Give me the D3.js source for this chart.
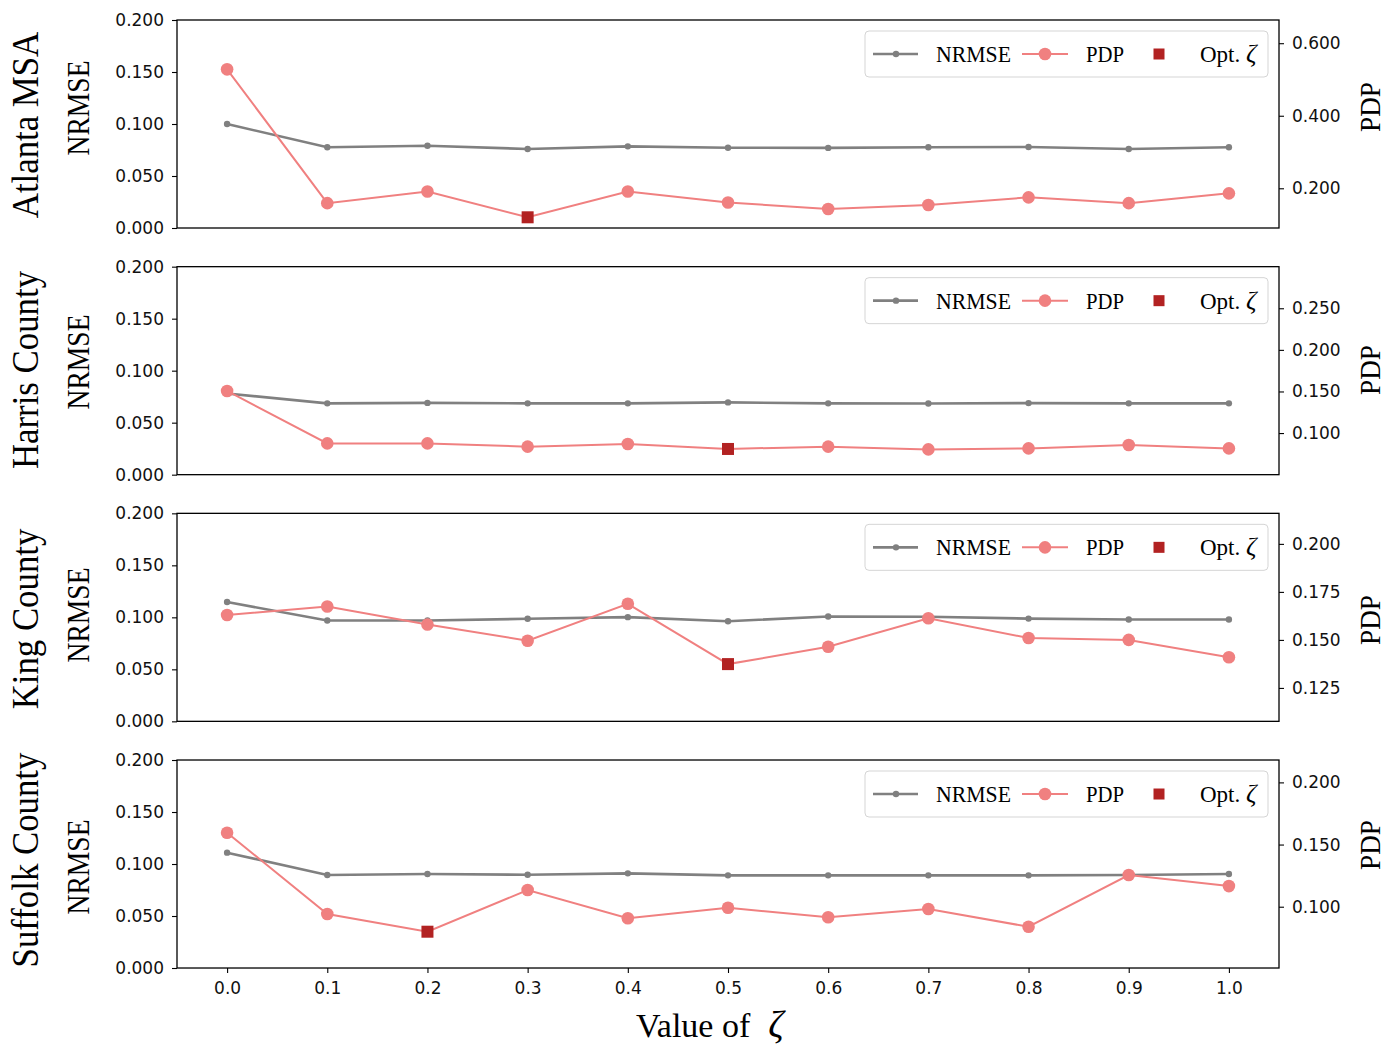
<!DOCTYPE html>
<html><head><meta charset="utf-8">
<script src="https://cdn.jsdelivr.net/npm/d3@7"></script>
<style>body{margin:0;background:#fff}svg{display:block}</style>
</head><body>
<svg id="chart" width="1399" height="1052"></svg>
<script>
// ---- data ----
const zeta = [0.0,0.1,0.2,0.3,0.4,0.5,0.6,0.7,0.8,0.9,1.0];
const xTickLabels = ["0.0","0.1","0.2","0.3","0.4","0.5","0.6","0.7","0.8","0.9","1.0"];
const regions = ["Atlanta MSA","Harris County","King County","Suffolk County"];

const nrmseAtlanta = [0.100,0.0776,0.0791,0.0760,0.0785,0.0772,0.0770,0.0776,0.0779,0.0760,0.0776];
const pdpAtlanta   = [0.528,0.159,0.191,0.120,0.191,0.161,0.143,0.154,0.175,0.159,0.186];
const nrmseHarris  = [0.078,0.0686,0.0690,0.0686,0.0686,0.0695,0.0686,0.0684,0.0688,0.0686,0.0686];
const pdpHarris    = [0.1506,0.0876,0.0876,0.0837,0.0869,0.0809,0.0837,0.0804,0.0816,0.0857,0.0816];
const nrmseKing    = [0.1147,0.0969,0.0969,0.0986,0.1002,0.0963,0.1008,0.1005,0.0988,0.0979,0.0979];
const pdpKing      = [0.163,0.1674,0.158,0.1496,0.1688,0.1374,0.1464,0.1613,0.151,0.150,0.141];
const nrmseSuffolk = [0.1109,0.0894,0.0904,0.0897,0.0910,0.0891,0.0891,0.0891,0.0891,0.0894,0.0904];
const pdpSuffolk   = [0.1595,0.0941,0.0799,0.1134,0.0907,0.0992,0.0915,0.0982,0.0839,0.1255,0.1166];

const optIndex = [3,5,5,2];

const nrmseTicks = [0,0.05,0.1,0.15,0.2];
const pdpDomainAtlanta = [0.0905,0.664];
const pdpDomainHarris  = [0.05,0.30];
const pdpDomainKing    = [0.1076,0.2159];
const pdpDomainSuffolk = [0.0507,0.218];
const pdpTicksAtlanta = [0.2,0.4,0.6];
const pdpTicksHarris  = [0.1,0.15,0.2,0.25];
const pdpTicksKing    = [0.125,0.15,0.175,0.2];
const pdpTicksSuffolk = [0.1,0.15,0.2];

const panels = [
  {name:regions[0], nrmse:nrmseAtlanta, pdp:pdpAtlanta, dom:pdpDomainAtlanta, ticks:pdpTicksAtlanta, opt:optIndex[0]},
  {name:regions[1], nrmse:nrmseHarris,  pdp:pdpHarris,  dom:pdpDomainHarris,  ticks:pdpTicksHarris,  opt:optIndex[1]},
  {name:regions[2], nrmse:nrmseKing,    pdp:pdpKing,    dom:pdpDomainKing,    ticks:pdpTicksKing,    opt:optIndex[2]},
  {name:regions[3], nrmse:nrmseSuffolk, pdp:pdpSuffolk, dom:pdpDomainSuffolk, ticks:pdpTicksSuffolk, opt:optIndex[3]},
];

// ---- layout ----
const svg = d3.select("#chart");
const left = 177, right = 1279, firstTop = 20, step = 246.67, ph = 208;
// vertical centres of the axis titles (layout)
const regionLabelY = [125, 370, 619, 860];
const nrmseLabelY  = [108, 362, 615, 867];
const pdpLabelY    = [107, 370, 620, 845];
const serif = "'Liberation Serif','Times New Roman',serif";
const sans = "'DejaVu Sans',sans-serif";
const grey = "#808080", coral = "#F08080", opt = "#B22222";

const x = d3.scaleLinear().domain([-0.05,1.05]).range([left,right]);

function fitText(sel, len){
  sel.attr("textLength", len).attr("lengthAdjust","spacingAndGlyphs");
}

panels.forEach((p,i)=>{
  const top = firstTop + i*step, bottom = top + ph;
  const yL = d3.scaleLinear().domain([0,0.2]).range([bottom,top]);
  const yR = d3.scaleLinear().domain(p.dom).range([bottom,top]);
  const g = svg.append("g");

  const la = g.append("g").attr("transform",`translate(${left},0)`)
    .call(d3.axisLeft(yL).tickValues(nrmseTicks).tickFormat(d3.format(".3f")).tickSize(5).tickPadding(8));
  const ra = g.append("g").attr("transform",`translate(${right},0)`)
    .call(d3.axisRight(yR).tickValues(p.ticks).tickFormat(d3.format(".3f")).tickSize(5).tickPadding(8));
  [la,ra].forEach(a=>{
    a.select(".domain").remove();
    a.selectAll("line").attr("stroke","#000").attr("stroke-width",1.1);
    a.selectAll("text").attr("font-family",sans).attr("font-size",17).attr("fill","#111");
  });
  if(i===3){
    const xa = g.append("g").attr("transform",`translate(0,${bottom})`)
      .call(d3.axisBottom(x).tickValues(zeta).tickFormat((d,k)=>xTickLabels[k]).tickSize(5).tickPadding(9));
    xa.select(".domain").remove();
    xa.selectAll("line").attr("stroke","#000").attr("stroke-width",1.1);
    xa.selectAll("text").attr("font-family",sans).attr("font-size",17).attr("fill","#111");
  }

  const lineL = d3.line().x((d,k)=>x(zeta[k])).y(d=>yL(d));
  g.append("path").datum(p.nrmse).attr("d",lineL).attr("fill","none")
    .attr("stroke",grey).attr("stroke-width",2.6);
  g.selectAll(".nm").data(p.nrmse).join("circle").attr("class","nm")
    .attr("cx",(d,k)=>x(zeta[k])).attr("cy",d=>yL(d)).attr("r",3.2).attr("fill",grey);

  const lineR = d3.line().x((d,k)=>x(zeta[k])).y(d=>yR(d));
  g.append("path").datum(p.pdp).attr("d",lineR).attr("fill","none")
    .attr("stroke",coral).attr("stroke-width",2);
  g.selectAll(".pm").data(p.pdp.map((v,k)=>({v,k})).filter(o=>o.k!==p.opt)).join("circle").attr("class","pm")
    .attr("cx",o=>x(zeta[o.k])).attr("cy",o=>yR(o.v)).attr("r",6.3).attr("fill",coral);
  const s = 12;
  g.append("rect").attr("x",x(zeta[p.opt])-s/2).attr("y",yR(p.pdp[p.opt])-s/2)
    .attr("width",s).attr("height",s).attr("fill",opt);

  g.append("rect").attr("x",left).attr("y",top).attr("width",right-left).attr("height",ph)
    .attr("fill","none").attr("stroke","#000").attr("stroke-width",1.3);

  // legend
  const lg = g.append("g").attr("transform",`translate(${right-414},${top+11})`);
  lg.append("rect").attr("x",0).attr("y",0).attr("width",403).attr("height",46).attr("rx",4)
    .attr("fill","#fff").attr("fill-opacity",0.8).attr("stroke","#d5d5d5").attr("stroke-width",1);
  const ly = 23;
  lg.append("line").attr("x1",8).attr("x2",53).attr("y1",ly).attr("y2",ly).attr("stroke",grey).attr("stroke-width",2.6);
  lg.append("circle").attr("cx",31).attr("cy",ly).attr("r",3.2).attr("fill",grey);
  lg.append("text").attr("x",71).attr("y",ly+8).attr("font-family",serif).attr("font-size",23).attr("fill","#000")
    .text("NRMSE").call(fitText,75);
  lg.append("line").attr("x1",157).attr("x2",203).attr("y1",ly).attr("y2",ly).attr("stroke",coral).attr("stroke-width",2);
  lg.append("circle").attr("cx",180).attr("cy",ly).attr("r",6.3).attr("fill",coral);
  lg.append("text").attr("x",221).attr("y",ly+8).attr("font-family",serif).attr("font-size",23).attr("fill","#000")
    .text("PDP").call(fitText,38);
  lg.append("rect").attr("x",294-5.5).attr("y",ly-5.5).attr("width",11).attr("height",11).attr("fill",opt);
  const ot = lg.append("text").attr("x",335).attr("y",ly+8).attr("font-family",serif).attr("font-size",23).attr("fill","#000");
  ot.append("tspan").text("Opt. ");
  ot.append("tspan").attr("font-style","italic").attr("font-size",26).text("ζ");

  // side labels
  svg.append("text").attr("transform",`translate(38,${regionLabelY[i]}) rotate(-90)`).attr("text-anchor","middle")
    .attr("font-family",serif).attr("font-size",37).attr("fill","#000").text(p.name)
    .call(t=>{ const n=t.node().getComputedTextLength(); fitText(t, n*0.94); });
  svg.append("text").attr("transform",`translate(89,${nrmseLabelY[i]}) rotate(-90)`).attr("text-anchor","middle")
    .attr("font-family",serif).attr("font-size",31).attr("fill","#000").text("NRMSE").call(fitText,95);
  svg.append("text").attr("transform",`translate(1380,${pdpLabelY[i]}) rotate(-90)`).attr("text-anchor","middle")
    .attr("font-family",serif).attr("font-size",30).attr("fill","#000").text("PDP").call(fitText,50);
});

const xl = svg.append("text").attr("x",636).attr("y",1037).attr("font-family",serif).attr("font-size",34).attr("fill","#000");
xl.append("tspan").text("Value of");
xl.append("tspan").attr("dx",18).attr("font-style","italic").attr("font-size",38).text("ζ");
</script>
</body></html>
